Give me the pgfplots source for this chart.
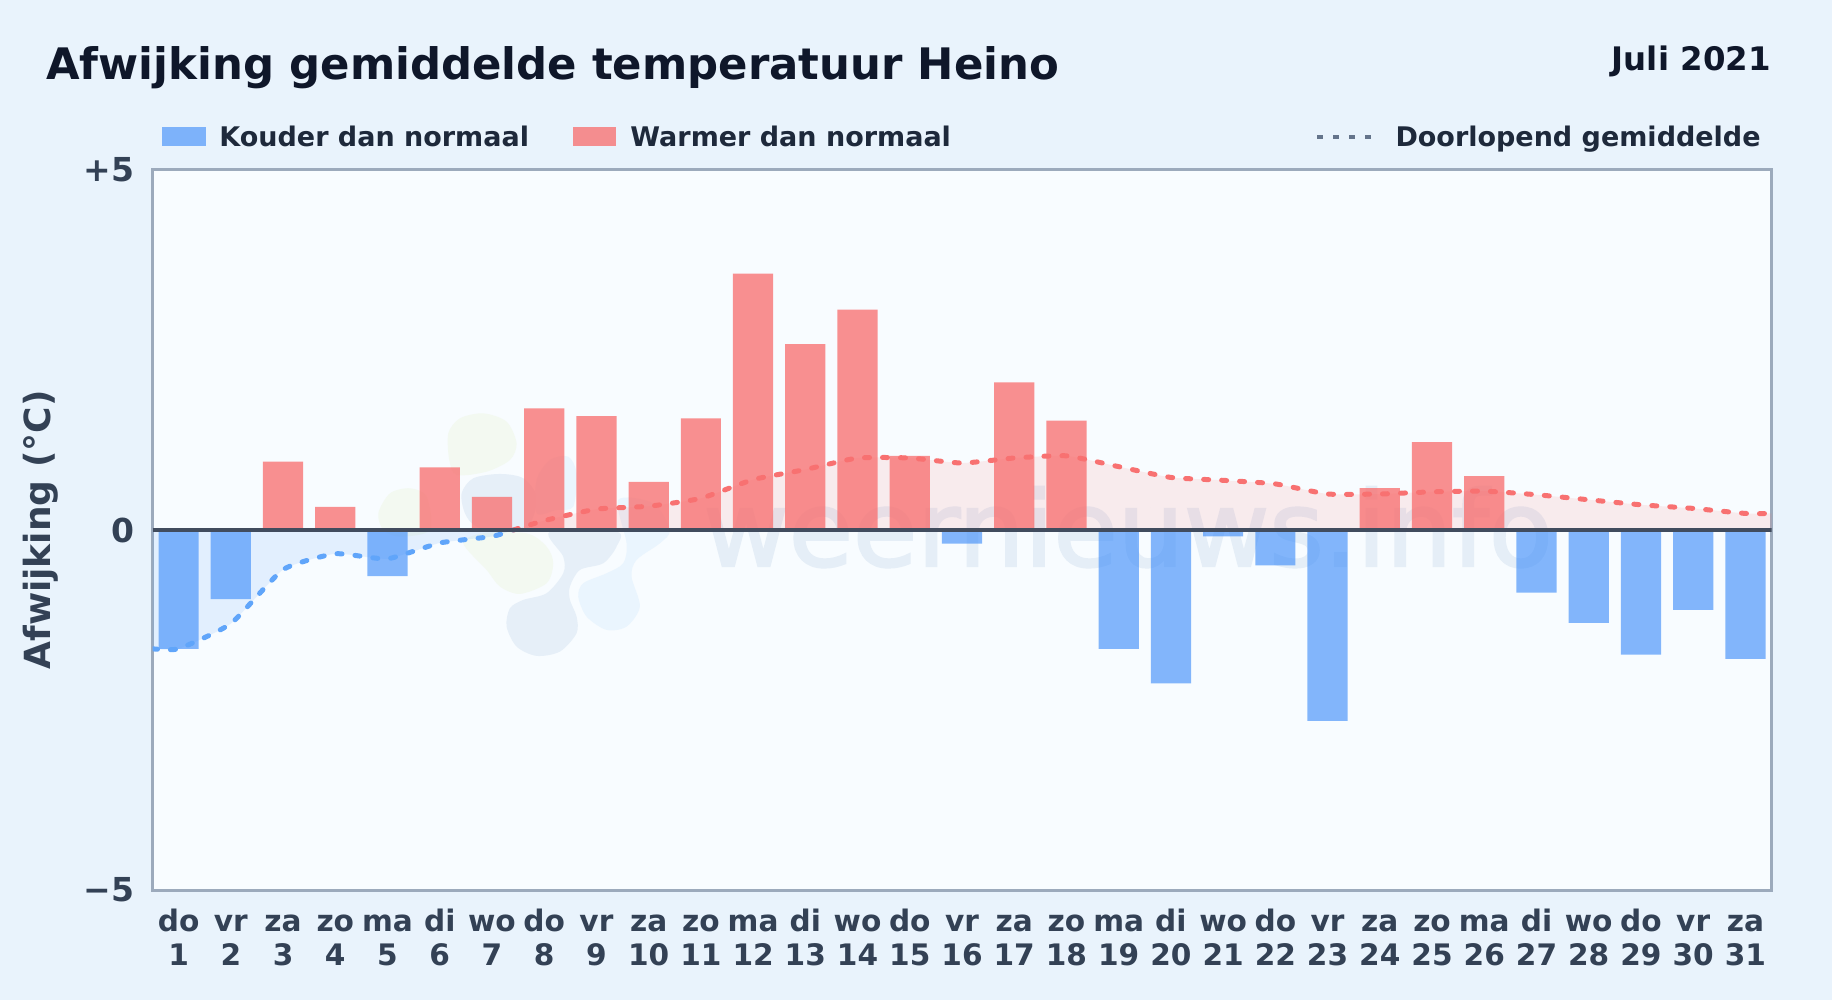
\documentclass[border=0pt]{standalone}
\usepackage{fontspec}
\setmainfont{DejaVu Sans}
\newfontfamily\wmfont[FakeBold=2.2]{DejaVu Sans}
\usepackage{pgfplots}
\usepackage{pgfplotstable}
\pgfplotsset{compat=1.18}

\definecolor{pagebg}{HTML}{E9F3FC}
\definecolor{panelbg}{HTML}{F8FCFF}
\definecolor{frame}{HTML}{9CAABC}
\definecolor{zeroline}{HTML}{414C5E}
\definecolor{titlecol}{HTML}{0F172A}
\definecolor{legcol}{HTML}{1E293B}
\definecolor{tickcol}{HTML}{334155}
\definecolor{coldbar}{HTML}{3B8BFA}
\definecolor{warmbar}{HTML}{F87171}
\definecolor{coldline}{HTML}{60A5FA}
\definecolor{warmline}{HTML}{F87171}
\definecolor{dotcol}{HTML}{64748B}
\definecolor{wmtext}{HTML}{E5EEF7}
\definecolor{wmgreen}{HTML}{F3F9F1}
\definecolor{wmgrey}{HTML}{E6EFF8}
\definecolor{wmblue}{HTML}{EAF5FE}

\pgfplotstableread{
day val
1 -1.65
2 -0.96
5 -0.64
16 -0.19
19 -1.65
20 -2.13
21 -0.09
22 -0.49
23 -2.65
27 -0.87
28 -1.29
29 -1.73
30 -1.11
31 -1.79
}\coldbars
\pgfplotstableread{
day val
3 0.95
4 0.32
6 0.87
7 0.46
8 1.69
9 1.58
10 0.67
11 1.55
12 3.56
13 2.58
14 3.06
15 1.03
17 2.05
18 1.52
24 0.58
25 1.22
26 0.75
}\warmbars
\pgfplotstableread{
day val
0.5 -1.65
1 -1.65
2 -1.30
3 -0.55
4 -0.33
5 -0.40
6 -0.18
7 -0.09
7.41 0
}\coldmean
\pgfplotstableread{
day val
7.41 0
8 0.13
9 0.29
10 0.33
11 0.44
12 0.70
13 0.84
14 1.00
15 1.00
16 0.93
17 1.00
18 1.03
19 0.88
20 0.73
21 0.69
22 0.64
23 0.50
24 0.50
25 0.53
26 0.54
27 0.49
28 0.42
29 0.35
30 0.30
31 0.23
31.5 0.23
}\warmmean

\newcommand{\fs}[1]{\fontsize{#1}{17.2pt}\selectfont\bfseries}
\newcommand{\dl}[2]{\rule{0pt}{11.5pt}#1\\#2}

\begin{document}
\begin{tikzpicture}
  \path[use as bounding box, fill=pagebg] (0,0) rectangle (916pt,-500pt);
  \begin{scope}[x=.5pt,y=-.5pt]
    \fill[panelbg] (152.5,170) rectangle (1771.5,890);
    % watermark
    \begin{scope}[shift={(360,400)},x=.1666pt,y=-.1666pt]
      \fill[wmgreen] plot[smooth cycle] coordinates {(265,100)(300,55)(370,40)(440,65)(470,130)(450,180)(380,215)(290,225)(268,180)};
      \fill[wmgreen] plot[smooth cycle] coordinates {(55,340)(90,280)(150,265)(200,290)(210,390)(120,410)(70,390)};
      \fill[wmgreen] plot[smooth cycle] coordinates {(310,430)(370,400)(500,400)(560,440)(580,490)(560,550)(480,582)(420,560)(380,510)};
      \fill[wmblue] plot[smooth cycle] coordinates {(530,240)(570,180)(625,170)(650,220)(640,320)(590,330)(530,340)};
      \fill[wmgrey] plot[smooth cycle] coordinates {(305,280)(340,235)(420,222)(490,235)(530,290)(510,370)(440,395)(350,380)(315,340)};
      \fill[wmgrey] plot[smooth cycle] coordinates {(570,395)(770,395)(770,440)(730,490)(660,510)(630,560)(630,600)(650,650)(650,700)(600,755)(530,768)(470,740)(440,680)(450,625)(490,600)(560,580)(610,520)(610,470)};
      \fill[wmblue] plot[smooth cycle] coordinates {(775,300)(880,310)(930,390)(900,430)(830,480)(815,530)(840,620)(800,680)(740,690)(680,650)(655,590)(670,550)(740,520)(790,490)(800,430)};
    \end{scope}
    \node[anchor=base west,inner sep=0pt,text=wmtext] at (703,566)
      {\wmfont\fontsize{52.2pt}{60pt}\selectfont weernieuws.info};
    % title and legend
    \node[anchor=base west,inner sep=0pt,text=titlecol] at (46,79.5) {\fs{21.7}Afwijking gemiddelde temperatuur Heino};
    \node[anchor=base east,inner sep=0pt,text=titlecol] at (1771,70.5) {\fs{16.2}Juli 2021};
    \fill[coldbar,opacity=.62] (162,127) rectangle (206,146);
    \node[anchor=base west,inner sep=0pt,text=legcol] at (219,147) {\fs{13.5}Kouder dan normaal};
    \fill[warmbar,opacity=.78] (573,127) rectangle (616,146);
    \node[anchor=base west,inner sep=0pt,text=legcol] at (630,147) {\fs{13.5}Warmer dan normaal};
    \draw[dotcol,line width=2.2pt,dash pattern=on 3pt off 5pt] (1317,137) -- (1376,137);
    \node[anchor=base east,inner sep=0pt,text=legcol] at (1761,147) {\fs{13.5}Doorlopend gemiddelde};
    \node[rotate=90,inner sep=0pt,text=tickcol] at (41,530) {\fs{18}Afwijking (°C)};
  \end{scope}
  \begin{axis}[
    at={(76.25pt,-445pt)}, anchor=south west,
    scale only axis, width=809.5pt, height=360pt,
    xmin=0.5, xmax=31.5, ymin=-5, ymax=5,
    axis line style={frame,line width=1.5pt},
    major tick length=0pt,
    xtick={1,...,31},
    xticklabels={{\dl{do}{1}},{\dl{vr}{2}},{\dl{za}{3}},{\dl{zo}{4}},{\dl{ma}{5}},{\dl{di}{6}},{\dl{wo}{7}},{\dl{do}{8}},{\dl{vr}{9}},{\dl{za}{10}},{\dl{zo}{11}},{\dl{ma}{12}},{\dl{di}{13}},{\dl{wo}{14}},{\dl{do}{15}},{\dl{vr}{16}},{\dl{za}{17}},{\dl{zo}{18}},{\dl{ma}{19}},{\dl{di}{20}},{\dl{wo}{21}},{\dl{do}{22}},{\dl{vr}{23}},{\dl{za}{24}},{\dl{zo}{25}},{\dl{ma}{26}},{\dl{di}{27}},{\dl{wo}{28}},{\dl{do}{29}},{\dl{vr}{30}},{\dl{za}{31}}},
    xticklabel style={align=center,text=tickcol,font=\fs{14.8},inner sep=0pt,yshift=-9pt},
    ytick={-5,0,5},
    yticklabels={−5,0,+5},
    yticklabel style={text=tickcol,font=\fs{16.5},inner sep=0pt,xshift=-9pt},
  ]
    \addplot[smooth,tension=0.3,draw=none,fill=coldline,fill opacity=.14] table[x=day,y=val] {\coldmean} \closedcycle;
    \addplot[smooth,tension=0.3,draw=none,fill=warmline,fill opacity=.12] table[x=day,y=val] {\warmmean} \closedcycle;
    \addplot[ybar,bar width=0.77,bar shift=0pt,draw=none,fill=coldbar,fill opacity=.62] table[x=day,y=val] {\coldbars};
    \addplot[ybar,bar width=0.77,bar shift=0pt,draw=none,fill=warmbar,fill opacity=.78] table[x=day,y=val] {\warmbars};
    \addplot[smooth,tension=0.3,coldline,line width=2.5pt,line cap=round,dash pattern=on 2.5pt off 6.5pt] table[x=day,y=val] {\coldmean};
    \addplot[smooth,tension=0.3,warmline,line width=2.5pt,line cap=round,dash pattern=on 2.5pt off 6.5pt] table[x=day,y=val] {\warmmean};
    \addplot[zeroline,line width=2.4pt] coordinates {(0.5,0) (31.5,0)};
  \end{axis}
\end{tikzpicture}
\end{document}
